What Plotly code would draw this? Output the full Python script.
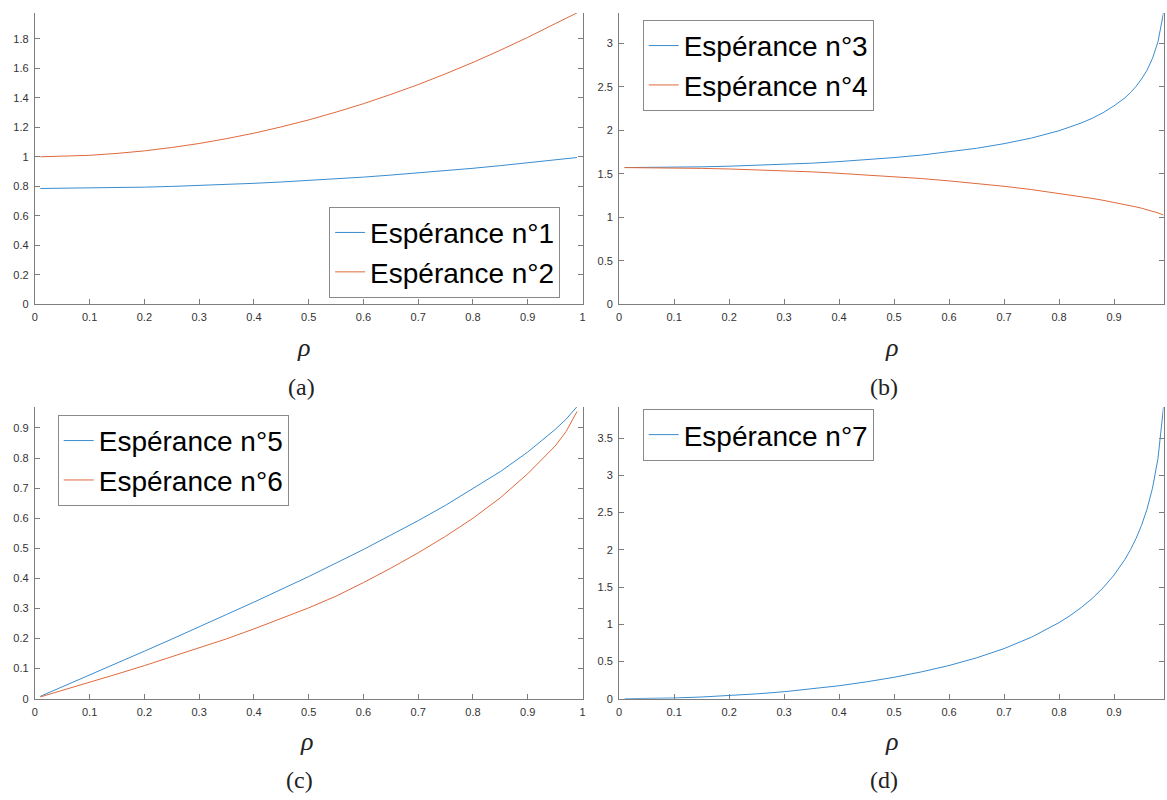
import plotly.graph_objects as go

# ---------------- data ----------------
rho_a = [0.01, 0.05, 0.1, 0.15, 0.2, 0.25, 0.3, 0.35, 0.4, 0.45, 0.5, 0.55, 0.6, 0.65,
         0.7, 0.75, 0.8, 0.85, 0.9, 0.95, 0.99]
esp1 = [0.785, 0.786, 0.787, 0.790, 0.794, 0.799, 0.805, 0.812, 0.820, 0.829, 0.839, 0.850,
        0.862, 0.876, 0.890, 0.906, 0.922, 0.940, 0.959, 0.979, 0.995]
esp2 = [1.000, 1.003, 1.010, 1.023, 1.040, 1.063, 1.090, 1.123, 1.160, 1.203, 1.250, 1.303,
        1.360, 1.423, 1.490, 1.563, 1.640, 1.723, 1.810, 1.903, 1.976]

rho_b = [0.01, 0.05, 0.1, 0.15, 0.2, 0.25, 0.3, 0.35, 0.4, 0.45, 0.5, 0.55, 0.6, 0.65, 0.7,
         0.75, 0.8, 0.82, 0.84, 0.86, 0.88, 0.9, 0.91, 0.92, 0.93, 0.94, 0.95, 0.96, 0.97,
         0.98, 0.99]
esp3 = [1.571, 1.572, 1.575, 1.580, 1.587, 1.596, 1.608, 1.622, 1.640, 1.661, 1.686, 1.715,
        1.751, 1.793, 1.846, 1.911, 1.995, 2.035, 2.083, 2.137, 2.202, 2.281, 2.326, 2.374,
        2.434, 2.504, 2.590, 2.690, 2.827, 3.020, 3.350]
esp4 = [1.571, 1.570, 1.567, 1.562, 1.555, 1.546, 1.535, 1.522, 1.505, 1.487, 1.468, 1.445,
        1.418, 1.389, 1.356, 1.318, 1.276, 1.258, 1.238, 1.217, 1.195, 1.172, 1.159, 1.146,
        1.133, 1.119, 1.104, 1.088, 1.070, 1.050, 1.025]

rho_c = [0.01, 0.05, 0.1, 0.15, 0.2, 0.25, 0.3, 0.35, 0.4, 0.45, 0.5, 0.55, 0.6, 0.65, 0.7,
         0.75, 0.8, 0.85, 0.9, 0.95, 0.97, 0.99]
esp5 = [0.008, 0.039, 0.079, 0.118, 0.158, 0.198, 0.240, 0.280, 0.321, 0.363, 0.406, 0.451,
        0.496, 0.544, 0.592, 0.643, 0.698, 0.755, 0.820, 0.895, 0.929, 0.971]
esp6 = [0.006, 0.027, 0.055, 0.082, 0.110, 0.139, 0.168, 0.199, 0.232, 0.266, 0.302, 0.341,
        0.386, 0.434, 0.485, 0.540, 0.600, 0.668, 0.748, 0.840, 0.888, 0.955]

rho_d = [0.01, 0.05, 0.1, 0.15, 0.2, 0.25, 0.3, 0.35, 0.4, 0.45, 0.5, 0.55, 0.6, 0.65, 0.7,
         0.75, 0.8, 0.82, 0.84, 0.86, 0.88, 0.9, 0.91, 0.92, 0.93, 0.94, 0.95, 0.96, 0.97,
         0.98, 0.99]
esp7 = [0.000, 0.003, 0.010, 0.023, 0.041, 0.065, 0.094, 0.131, 0.174, 0.227, 0.288, 0.361,
        0.446, 0.549, 0.673, 0.827, 1.022, 1.116, 1.223, 1.345, 1.489, 1.661, 1.761, 1.873,
        2.002, 2.151, 2.328, 2.546, 2.829, 3.229, 3.917]

names = ["Espérance n°1", "Espérance n°2", "Espérance n°3", "Espérance n°4",
         "Espérance n°5", "Espérance n°6", "Espérance n°7"]
panel_labels = ["(a)", "(b)", "(c)", "(d)"]

BLUE = "#3a8ccf"
ORANGE = "#e0693c"
W, H = 1167, 800

# panel boxes in pixels: (left, right, top, bottom)
boxes = [(32, 582.5, 13, 306.5), (619.3, 1166.5, 13, 306.5),
         (32, 582.5, 410, 704), (619.3, 1166.5, 410, 704)]
xranges = [[0, 1], [0, 0.99], [0, 1], [0, 0.99]]
yranges = [[0, 1.976], [0, 3.35], [0, 0.97], [0, 3.92]]
ydticks = [0.2, 0.5, 0.1, 0.5]

fig = go.Figure()

series = [
    (rho_a, esp1, names[0], BLUE, 0, "legend"),
    (rho_a, esp2, names[1], ORANGE, 0, "legend"),
    (rho_b, esp3, names[2], BLUE, 1, "legend2"),
    (rho_b, esp4, names[3], ORANGE, 1, "legend2"),
    (rho_c, esp5, names[4], BLUE, 2, "legend3"),
    (rho_c, esp6, names[5], ORANGE, 2, "legend3"),
    (rho_d, esp7, names[6], BLUE, 3, "legend4"),
]
for xs, ys, nm, col, p, lg in series:
    sfx = "" if p == 0 else str(p + 1)
    fig.add_trace(go.Scatter(x=xs, y=ys, mode="lines", name=nm,
                             line=dict(color=col, width=1),
                             xaxis="x" + sfx, yaxis="y" + sfx, legend=lg))

AXCOL = "#7d7d7d"
tickfont = dict(family="Liberation Sans, Arial, sans-serif", size=11, color="#333333")
layout = dict(width=W, height=H, margin=dict(l=0, r=0, t=0, b=0),
              paper_bgcolor="white", plot_bgcolor="white", showlegend=True)

for p, (l, r, t, b) in enumerate(boxes):
    sfx = "" if p == 0 else str(p + 1)
    xd = [l / W, r / W]
    yd = [1 - b / H, 1 - t / H]
    layout["xaxis" + sfx] = dict(domain=xd, range=xranges[p], anchor="y" + sfx,
                                 showgrid=False, zeroline=False, showline=True,
                                 linecolor=AXCOL, linewidth=1, ticks="inside", ticklen=5,
                                 tickcolor=AXCOL, tickwidth=1, dtick=0.1, tick0=0,
                                 tickfont=tickfont, ticklabelstandoff=3)
    layout["yaxis" + sfx] = dict(domain=yd, range=yranges[p], anchor="x" + sfx,
                                 showgrid=False, zeroline=False, showline=True, mirror="ticks",
                                 linecolor=AXCOL, linewidth=1, ticks="inside", ticklen=5,
                                 tickcolor=AXCOL, tickwidth=1, dtick=ydticks[p], tick0=0,
                                 tickfont=tickfont, ticklabelstandoff=3)
    # top ticks (overlay axis, line only for panel b)
    tsfx = str(p + 5)
    layout["xaxis" + tsfx] = dict(domain=xd, range=xranges[p], overlaying="x" + sfx,
                                  anchor="y" + sfx, side="top", showgrid=False, zeroline=False,
                                  showline=(p == 1), linecolor=AXCOL, linewidth=1,
                                  ticks="inside", ticklen=5, tickcolor=AXCOL, tickwidth=1,
                                  dtick=0.1, tick0=0, showticklabels=False)

legfont = dict(family="Liberation Sans, Arial, sans-serif", size=28, color="black")
legcommon = dict(bgcolor="white", bordercolor="#8a8a8a", borderwidth=1, font=legfont,
                 itemwidth=30, tracegroupgap=0)
layout["legend"] = dict(x=560 / W, y=1 - 300 / H, xanchor="right", yanchor="bottom", **legcommon)
layout["legend2"] = dict(x=643 / W, y=1 - 20 / H, xanchor="left", yanchor="top", **legcommon)
layout["legend3"] = dict(x=55 / W, y=1 - 418 / H, xanchor="left", yanchor="top", **legcommon)
layout["legend4"] = dict(x=643 / W, y=1 - 412 / H, xanchor="left", yanchor="top", **legcommon)

fig.update_layout(**layout)

serif = "Liberation Serif, Times New Roman, serif"
rho_pos = [(302, 350), (893, 350), (305, 747), (893, 747)]
lab_pos = [(300, 390), (886, 390), (298, 786), (886, 786)]
for (rx, ry), (lx, ly), lab in zip(rho_pos, lab_pos, panel_labels):
    fig.add_annotation(x=rx / W, y=1 - ry / H, xref="paper", yref="paper", text="<i>ρ</i>",
                       showarrow=False, font=dict(family=serif, size=26, color="#222222"),
                       xanchor="center", yanchor="middle")
    fig.add_annotation(x=lx / W, y=1 - ly / H, xref="paper", yref="paper", text=lab,
                       showarrow=False, font=dict(family=serif, size=24, color="#222222"),
                       xanchor="center", yanchor="middle")

fig.write_html("out.html", config={"displayModeBar": False},
               post_script="document.body.style.margin='0';document.body.style.overflow='hidden';")
